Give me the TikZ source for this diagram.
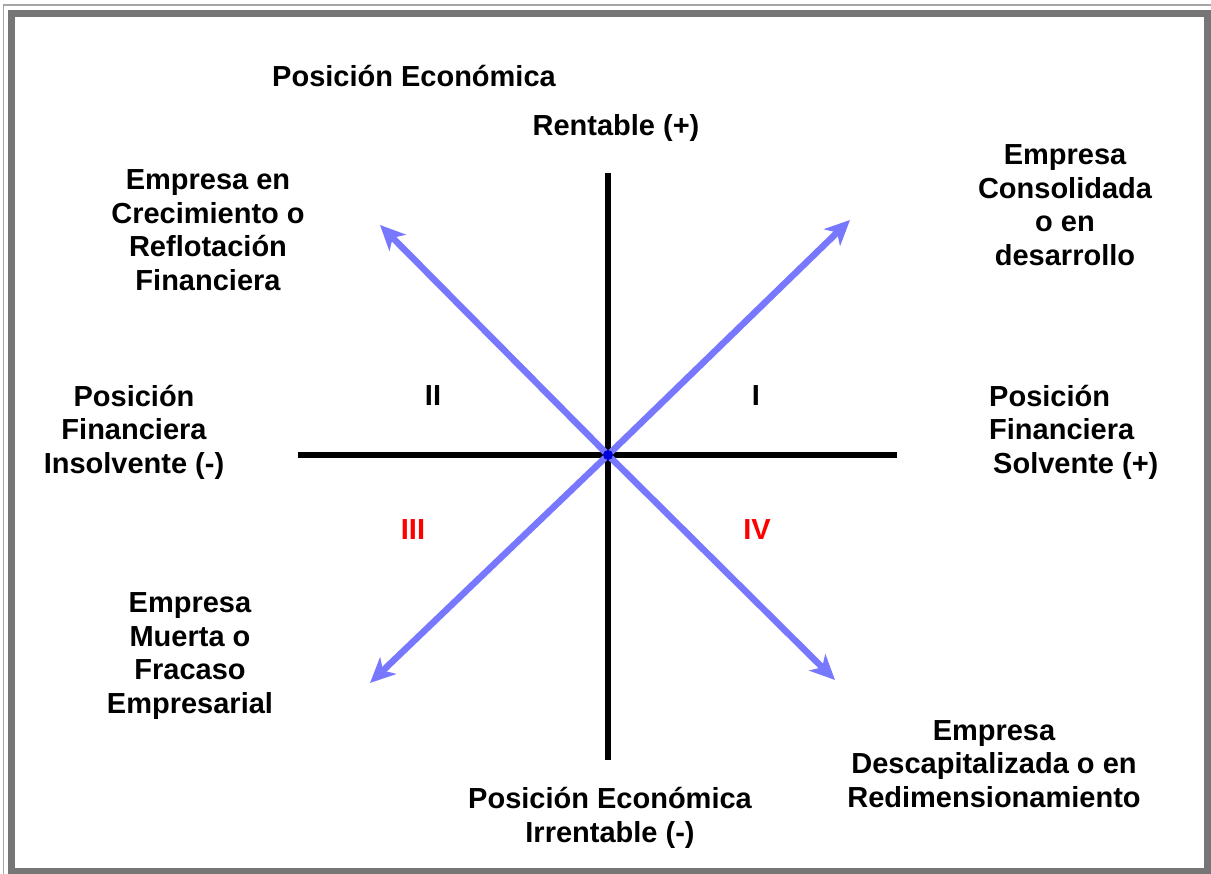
\documentclass[tikz,border=0pt]{standalone}
\usepackage{fontspec}
\setmainfont{Liberation Sans}
\usetikzlibrary{arrows.meta,calc}
\definecolor{arrowblue}{RGB}{120,120,255}
\definecolor{framegray}{RGB}{118,118,118}
\definecolor{qred}{RGB}{255,0,0}
\begin{document}
\begin{tikzpicture}[x=1pt,y=1pt,
  lbl/.style={font=\fontsize{29}{33.5}\selectfont\bfseries, align=center, inner sep=0pt},
  axisline/.style={line width=6pt, black},
  diag/.style={line width=6.5pt, arrowblue, -{Stealth[length=25pt,width=23pt,inset=7pt]}},
]
\useasboundingbox (0,0) rectangle (1211,-874);
\fill[white] (0,0) rectangle (1211,-874);
% frame
\draw[line width=1.5pt, gray!70] (3.5,-5) rectangle (1230,-890);
\draw[line width=7pt, framegray] (11.5,-13.5) rectangle (1207.5,-871.5);
% coordinates
\coordinate (O) at (608,-455);
\coordinate (T) at (608,-173);
\coordinate (B) at (608,-760);
\coordinate (L) at (298,-455);
\coordinate (R) at (897,-455);
\coordinate (NW) at (380,-225);
\coordinate (NE) at (850,-220);
\coordinate (SW) at (370,-683);
\coordinate (SE) at (835,-680);
% axes
\draw[axisline] (T) -- (B);
\draw[axisline] (L) -- (R);
% diagonals
\draw[diag] (O) -- (NW);
\draw[diag] (O) -- (NE);
\draw[diag] (O) -- (SW);
\draw[diag] (O) -- (SE);
\fill[blue!85!black] (O) circle (5pt);
% labels
\node[lbl] (pe) at (414,-76) {Posición Económica};
\node[lbl] (rent) at (616,-128) {Rentable (+)};
\node[lbl] (crec) at (208,-230) {Empresa en\\Crecimiento o\\Reflotación\\Financiera};
\node[lbl] (cons) at (1065,-205) {Empresa\\Consolidada\\o en\\desarrollo};
\node[lbl] (insol) at (134,-432) {Posición\\Financiera\\Insolvente (-)};
\node[lbl, align=left, anchor=west] (solv) at (989,-432) {Posición\\Financiera\\\hspace{4pt}Solvente (+)};
\node[lbl] (q2) at (433,-396) {II};
\node[lbl] (q1) at (756,-396) {I};
\node[lbl, text=qred] (q3) at (413,-530) {III};
\node[lbl, text=qred] (q4) at (757,-530) {IV};
\node[lbl] (muerta) at (190,-656) {Empresa\\Muerta o\\Fracaso\\Empresarial};
\node[lbl] (desc) at (994,-764) {Empresa\\Descapitalizada o en\\Redimensionamiento};
\node[lbl] (irr) at (610,-818) {Posición Económica\\Irrentable (-)};
\end{tikzpicture}
\end{document}
